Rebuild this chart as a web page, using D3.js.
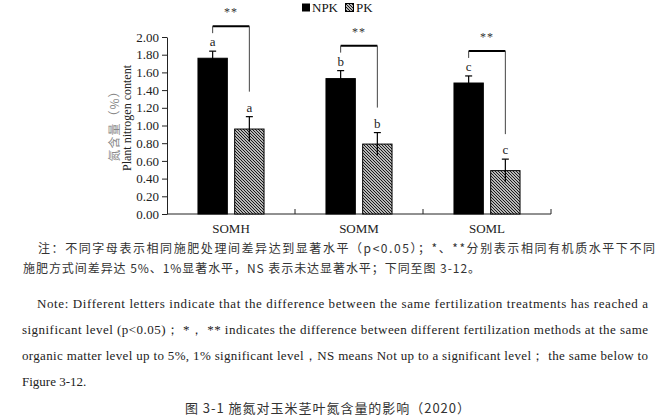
<!DOCTYPE html>
<html><head><meta charset="utf-8">
<script src="https://cdn.jsdelivr.net/npm/d3@7"></script>
<style>
body{margin:0;background:#fff;}
svg{display:block;}
.ser{font-family:"Liberation Serif","Times New Roman",Tinos,serif;}
.cjk{font-family:"Noto Sans CJK SC","Noto Sans CJK TC",sans-serif;}
</style></head>
<body>
<svg id="c" width="661" height="418"></svg>
<script>
const categories = ["SOMH", "SOMM", "SOML"];
const seriesNames = ["NPK", "PK"];
const npkValues = [1.76, 1.53, 1.48];
const npkErrors = [0.08, 0.09, 0.08];
const pkValues = [0.96, 0.79, 0.49];
const pkErrors = [0.14, 0.13, 0.13];
const npkLetters = ["a", "b", "c"];
const pkLetters = ["a", "b", "c"];
const sigMarks = ["**", "**", "**"];
const yTicks = [0, 0.2, 0.4, 0.6, 0.8, 1.0, 1.2, 1.4, 1.6, 1.8, 2.0];
const yTitleZh = "氮含量（%）";
const yTitleEn = "Plant nitrogen content";
const noteZh = [
  "注：不同字母表示相同施肥处理间差异达到显著水平（p<0.05）；*、**分别表示相同有机质水平下不同",
  "施肥方式间差异达 5%、1%显著水平，NS 表示未达显著水平；下同至图 3-12。"
];
const noteEn = [
  "Note: Different letters indicate that the difference between the same fertilization treatments has reached a",
  "significant level (p<0.05)； *， ** indicates the difference between different fertilization methods at the same",
  "organic matter level up to 5%, 1% significant level，NS means Not up to a significant level； the same below to",
  "Figure 3-12."
];
const caption = "图 3-1 施氮对玉米茎叶氮含量的影响（2020）";

const svg = d3.select("#c");

const defs = svg.append("defs");
const pat = defs.append("pattern").attr("id","hatch").attr("patternUnits","userSpaceOnUse")
  .attr("width",3).attr("height",3);
pat.append("rect").attr("width",3).attr("height",3).attr("fill","#fff");
pat.append("path").attr("d","M0,0L3,3M-1,2L1,4M2,-1L4,1").attr("stroke","#111").attr("stroke-width",1.15);

const x0 = d3.scaleBand().domain(categories).range([167, 551]).paddingInner(0.484).paddingOuter(0.242);
const x1 = d3.scaleBand().domain(seriesNames).range([0, x0.bandwidth()]).paddingInner(0.2);
const y = d3.scaleLinear().domain([0, 2]).range([214, 37]);

// y axis
const yAxis = d3.axisLeft(y).tickValues(yTicks).tickFormat(d3.format(".2f")).tickSizeInner(5).tickSizeOuter(0).tickPadding(3);
const gy = svg.append("g").attr("transform","translate(167,0)").call(yAxis);
gy.attr("font-family",null).attr("font-size",null);
gy.selectAll("text").attr("class","ser").style("font-size","13px").attr("fill","#222");
gy.selectAll("line,path").attr("stroke","#222");

// x axis
const gx = svg.append("g");
gx.append("line").attr("x1",167).attr("x2",551).attr("y1",y(0)).attr("y2",y(0)).attr("stroke","#222");
const boundaries = categories.map((c,i)=> x0(c) + x0.bandwidth()/2 + x0.step()/2);
gx.selectAll("line.tk").data(boundaries).join("line").attr("class","tk")
  .attr("x1",d=>d).attr("x2",d=>d).attr("y1",y(0)).attr("y2",y(0)-5).attr("stroke","#222");
gx.selectAll("text").data(categories).join("text").attr("class","ser")
  .attr("x",d=>x0(d)+x0.bandwidth()/2).attr("y",233).attr("text-anchor","middle")
  .style("font-size","13px").attr("fill","#222").text(d=>d);

// data rows
const rows = categories.map((c,i)=>({c, npk:npkValues[i], npkE:npkErrors[i], pk:pkValues[i], pkE:pkErrors[i],
  la:npkLetters[i], lb:pkLetters[i], sig:sigMarks[i]}));

const g = svg.append("g");
rows.forEach(r=>{
  const gxp = x0(r.c);
  const items = [{s:"NPK", v:r.npk, e:r.npkE, l:r.la},{s:"PK", v:r.pk, e:r.pkE, l:r.lb}];
  items.forEach(it=>{
    const bx = gxp + x1(it.s), bw = x1.bandwidth();
    g.append("rect").attr("x",bx).attr("y",y(it.v)).attr("width",bw).attr("height",y(0)-y(it.v))
      .attr("fill", it.s==="NPK" ? "#000" : "url(#hatch)").attr("stroke","#000").attr("stroke-width",1);
    const cx = bx + bw/2;
    g.append("line").attr("x1",cx).attr("x2",cx).attr("y1",y(it.v-it.e)).attr("y2",y(it.v+it.e)).attr("stroke","#000").attr("stroke-width",1.2);
    g.append("line").attr("x1",cx-3.5).attr("x2",cx+3.5).attr("y1",y(it.v+it.e)).attr("y2",y(it.v+it.e)).attr("stroke","#000").attr("stroke-width",1.2);
    g.append("text").attr("class","ser").attr("x",cx).attr("y",y(it.v+it.e)-5).attr("text-anchor","middle")
      .style("font-size","13px").attr("fill","#222").text(it.l);
  });
  const ax = gxp + x1("NPK") + x1.bandwidth()/2;
  const bxp = gxp + x1("PK") + x1.bandwidth()/2;
  const by = y(r.npk + r.npkE) - 25;
  const ry = y(r.pk + r.pkE) - 25;
  g.append("line").attr("x1",ax).attr("x2",bxp).attr("y1",by).attr("y2",by).attr("stroke","#000").attr("stroke-width",2);
  g.append("line").attr("x1",ax).attr("x2",ax).attr("y1",by).attr("y2",by+7).attr("stroke","#444").attr("stroke-width",1);
  g.append("line").attr("x1",bxp).attr("x2",bxp).attr("y1",by).attr("y2",ry).attr("stroke","#444").attr("stroke-width",1);
  g.append("text").attr("class","ser").attr("x",(ax+bxp)/2).attr("y",by-10).attr("text-anchor","middle")
    .style("font-size","12px").attr("letter-spacing",1).attr("fill","#333").text(r.sig);
});

// legend
const lg = svg.append("g");
lg.append("rect").attr("x",302).attr("y",3.5).attr("width",8).attr("height",8).attr("fill","#000");
lg.append("text").attr("class","ser").attr("x",312).attr("y",12).style("font-size","13px").attr("fill","#111").text(seriesNames[0]);
lg.append("rect").attr("x",345.5).attr("y",3.5).attr("width",8).attr("height",8).attr("fill","url(#hatch)").attr("stroke","#000");
lg.append("text").attr("class","ser").attr("x",356).attr("y",12).style("font-size","13px").attr("fill","#111").text(seriesNames[1]);

// y titles
svg.append("text").attr("class","cjk").attr("transform","translate(119,123) rotate(-90)").attr("text-anchor","middle")
  .style("font-size","12px").attr("letter-spacing",1).attr("fill","#888").text(yTitleZh);
svg.append("text").attr("class","ser").attr("transform","translate(131,118) rotate(-90)").attr("text-anchor","middle")
  .style("font-size","12px").attr("fill","#222").text(yTitleEn);

// notes
const nz = svg.append("g");
nz.append("text").attr("class","cjk").style("font-size","12px").attr("fill","#333")
  .attr("x",38).attr("y",253).attr("textLength",617).attr("lengthAdjust","spacing").text(noteZh[0]);
nz.append("text").attr("class","cjk").style("font-size","12px").attr("fill","#333")
  .attr("x",23).attr("y",273).attr("textLength",457).attr("lengthAdjust","spacing").text(noteZh[1]);
const enX = [37, 22, 22, 22];
const enY = [308, 334, 360, 386];
noteEn.forEach((t,i)=>{
  const tx = svg.append("text").attr("class","ser").style("font-size","13px").attr("fill","#222")
    .attr("x",enX[i]).attr("y",enY[i]).text(t);
  if (i < 3) tx.attr("textLength",648-enX[i]).attr("lengthAdjust","spacing");
});
svg.append("text").attr("class","cjk").attr("x",185).attr("y",413).attr("textLength",285).attr("lengthAdjust","spacing")
  .style("font-size","13px").attr("fill","#333").text(caption);
</script>
</body></html>
